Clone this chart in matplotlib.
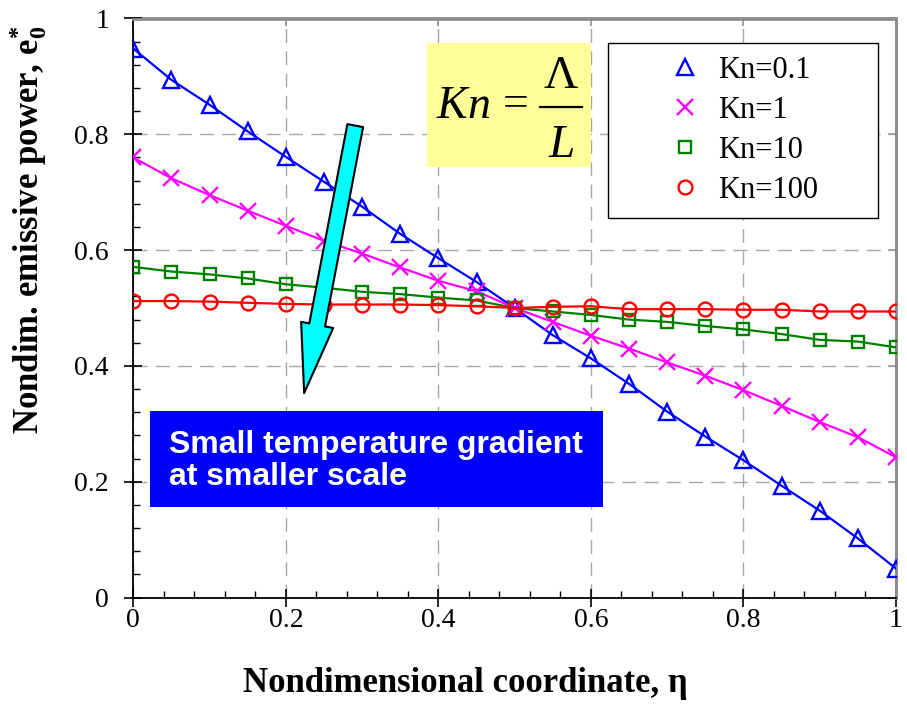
import matplotlib
matplotlib.use("Agg")
import matplotlib.pyplot as plt
import matplotlib.patches as mpatches
from matplotlib.lines import Line2D
from matplotlib.ticker import MultipleLocator, NullLocator

plt.rcParams["font.family"] = "Liberation Serif"
plt.rcParams["mathtext.fontset"] = "custom"
plt.rcParams["mathtext.rm"] = "Liberation Serif"
plt.rcParams["mathtext.it"] = "Liberation Serif:italic"
plt.rcParams["mathtext.bf"] = "Liberation Serif:bold"

# ── data ──────────────────────────────────────────────────────────────────────
eta = [0.0, 0.05, 0.1, 0.15, 0.2, 0.25, 0.3, 0.35, 0.4, 0.45, 0.5,
       0.55, 0.6, 0.65, 0.7, 0.75, 0.8, 0.85, 0.9, 0.95, 1.0]

kn_01 = [0.948, 0.894, 0.851, 0.805, 0.761, 0.718, 0.675, 0.628, 0.586, 0.545, 0.500,
         0.453, 0.413, 0.369, 0.321, 0.278, 0.237, 0.193, 0.150, 0.102, 0.050]
kn_1 = [0.760, 0.724, 0.695, 0.668, 0.642, 0.616, 0.594, 0.570, 0.547, 0.529, 0.500,
        0.476, 0.452, 0.430, 0.406, 0.383, 0.358, 0.331, 0.303, 0.277, 0.242]
kn_10 = [0.571, 0.563, 0.558, 0.551, 0.541, 0.535, 0.528, 0.524, 0.518, 0.513, 0.500,
         0.494, 0.488, 0.480, 0.476, 0.469, 0.463, 0.455, 0.445, 0.442, 0.432]
kn_100 = [0.512, 0.512, 0.511, 0.509, 0.507, 0.506, 0.506, 0.506, 0.505, 0.503, 0.500,
          0.502, 0.503, 0.498, 0.498, 0.498, 0.497, 0.497, 0.494, 0.494, 0.494]

labels = ["Kn=0.1", "Kn=1", "Kn=10", "Kn=100"]
series = [kn_01, kn_1, kn_10, kn_100]
colors = ["#0000ff", "#ff00ff", "#008000", "#ff0000"]
markers = ["^", "x", "s", "o"]
msizes = [12, 11, 9, 10]

W, H = 907, 711


def fx(px):
    return px / W


def fy(py):
    return 1 - py / H


fig = plt.figure(figsize=(W / 100, H / 100), dpi=100)
fig.patch.set_facecolor("white")
ax = fig.add_axes([fx(133.3), fy(597.5), (896 - 133.3) / W, (597.5 - 18.5) / H])

for ys, c, m, ms in zip(series, colors, markers, msizes):
    ax.plot(eta, ys, color=c, lw=1.6, marker=m, ms=ms, mfc="none",
            mec=c, mew=1.7, zorder=3)

ax.set_xlim(0, 1)
ax.set_ylim(0, 1)
ax.xaxis.set_major_locator(MultipleLocator(0.2))
ax.yaxis.set_major_locator(MultipleLocator(0.2))
ax.xaxis.set_minor_locator(MultipleLocator(0.04))
ax.yaxis.set_minor_locator(MultipleLocator(0.04))
ax.xaxis.set_major_formatter(plt.FuncFormatter(lambda v, p: f"{v:g}"))
ax.yaxis.set_major_formatter(plt.FuncFormatter(lambda v, p: f"{v:g}"))

ax.tick_params(which="major", direction="inout", length=13, width=1.2,
               labelsize=20, colors="black")
ax.tick_params(axis="y", which="major", pad=11)
ax.tick_params(axis="x", which="major", pad=1)
ax.tick_params(which="minor", direction="in", length=5, width=1.0)

ax.grid(which="major", color="#a6a6a6", lw=1.0, ls=(0, (10, 6)), zorder=0)

ax.spines["left"].set_linewidth(1.3)
ax.spines["bottom"].set_linewidth(1.3)
for s in ["top", "right"]:
    ax.spines[s].set_color("#8c8c8c")
    ax.spines[s].set_linewidth(2)

# small inward ticks on the grey frame
top = ax.secondary_xaxis("top")
top.xaxis.set_major_locator(MultipleLocator(0.2))
top.xaxis.set_minor_locator(NullLocator())
top.tick_params(direction="in", length=6, width=1.2, color="#8c8c8c", labeltop=False)
top.spines["top"].set_color("#8c8c8c")
top.spines["top"].set_linewidth(2)
right = ax.secondary_yaxis("right")
right.yaxis.set_major_locator(MultipleLocator(0.2))
right.yaxis.set_minor_locator(NullLocator())
right.tick_params(direction="in", length=6, width=1.2, color="#8c8c8c", labelright=False)
right.spines["right"].set_color("#8c8c8c")
right.spines["right"].set_linewidth(2)

# axis labels
fig.text(fx(465), fy(683), "Nondimensional coordinate, \u03b7", ha="center",
         va="center", fontsize=25, fontweight="bold")
fig.text(fx(28), fy(230),
         r"Nondim. emissive power, e$_\mathbf{0}^\mathbf{*}$",
         rotation=90, ha="center", va="center", fontsize=25, fontweight="bold")

# legend
handles = [Line2D([], [], ls="none", marker=m, ms=ms, mfc="none", mec=c, mew=1.7)
           for c, m, ms in zip(colors, markers, msizes)]
leg = ax.legend(handles, labels, loc="upper left",
                bbox_to_anchor=(fx(607.7), fy(215.7), (877.7 - 607.7) / W, (215.7 - 43.3) / H),
                bbox_transform=fig.transFigure, mode="expand",
                fontsize=22, frameon=True, fancybox=False, edgecolor="black",
                framealpha=1, borderpad=0.42, labelspacing=0.36,
                handlelength=4.2, handletextpad=-1.02, borderaxespad=0)
leg.get_frame().set_linewidth(1.0)

# Kn definition box
fig.patches.append(mpatches.Rectangle((fx(426.7), fy(166.7)), (591 - 426.7) / W,
                                      (166.7 - 43.3) / H, transform=fig.transFigure,
                                      facecolor="#ffff99", edgecolor="none", zorder=5))
fig.text(fx(436), fy(118), r"$Kn$", ha="left", va="baseline", fontsize=33, zorder=6)
fig.text(fx(515.5), fy(116), "=", ha="center", va="baseline", fontsize=33, zorder=6)
fig.text(fx(561), fy(88), "\u039b", ha="center", va="baseline", fontsize=34, zorder=6)
fig.text(fx(561), fy(157), r"$L$", ha="center", va="baseline", fontsize=34, zorder=6)
fig.lines.append(Line2D([fx(540), fx(582)], [fy(106.7), fy(106.7)], color="black",
                        lw=1.6, transform=fig.transFigure, zorder=6))

# blue note box
fig.patches.append(mpatches.Rectangle((fx(150), fy(506.7)), (602.7 - 150) / W,
                                      (506.7 - 411) / H, transform=fig.transFigure,
                                      facecolor="#0000ff", edgecolor="none", zorder=5))
fig.text(fx(169), fy(461), "Small temperature gradient\nat smaller scale",
         ha="left", va="center", fontsize=23, fontweight="bold", color="white",
         family="Liberation Sans", linespacing=1.08, zorder=6)

# cyan arrow
arrow = mpatches.FancyArrowPatch((0.291, 0.815), (0.224, 0.353),
                                 arrowstyle="simple,head_width=23.5,head_length=50,tail_width=11.5",
                                 mutation_scale=1, shrinkA=0, shrinkB=0,
                                 facecolor="#00ffff", edgecolor="black", lw=1.5,
                                 transform=ax.transData, zorder=4)
ax.add_patch(arrow)

fig.savefig("out.png", dpi=100)
